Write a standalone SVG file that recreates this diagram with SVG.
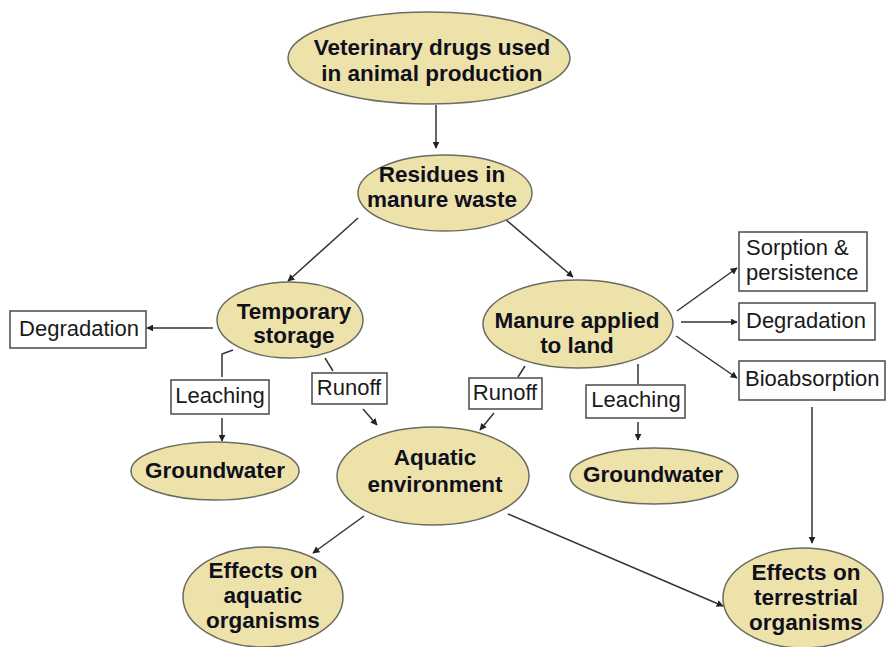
<svg xmlns="http://www.w3.org/2000/svg" width="887" height="647" viewBox="0 0 887 647">
<style>
.n ellipse{fill:#EEE2AB;stroke:#6b6b60;stroke-width:1.5}
.n rect{fill:#fff;stroke:#4a4a4a;stroke-width:1.5}
.b{font-family:"Liberation Sans",Arial,sans-serif;font-weight:bold;font-size:22.5px;fill:#10101c;text-anchor:middle}
.r{font-family:"Liberation Sans",Arial,sans-serif;font-size:22px;fill:#1a1a1a}
.c line,.c polyline{stroke:#333;stroke-width:1.5;fill:none}
.c .a{marker-end:url(#ah)}
</style>
<defs>
<marker id="ah" viewBox="0 0 10 10" refX="9" refY="5" markerWidth="7" markerHeight="7" markerUnits="userSpaceOnUse" orient="auto">
<path d="M0,0 L10,5 L0,10 z" fill="#222"/>
</marker>
</defs>
<rect width="887" height="647" fill="#fff"/>
<g class="c" id="connectors">
<line class="a" x1="436" y1="105" x2="436" y2="148"/>
<line class="a" x1="358" y1="218" x2="288" y2="281"/>
<line class="a" x1="505" y1="219" x2="573" y2="277"/>
<line class="a" x1="213" y1="328" x2="147" y2="328"/>
<polyline points="233,350 222,354 222,377"/>
<line class="a" x1="222" y1="418" x2="222" y2="441"/>
<line x1="325" y1="358" x2="333" y2="371"/>
<line class="a" x1="363" y1="409" x2="377" y2="425"/>
<line class="a" x1="677" y1="311" x2="737" y2="268"/>
<line class="a" x1="681" y1="322" x2="737" y2="322"/>
<line class="a" x1="676" y1="336" x2="737" y2="378"/>
<line x1="525" y1="366" x2="518" y2="377"/>
<line class="a" x1="494" y1="413" x2="480" y2="430"/>
<line x1="638" y1="364" x2="638" y2="384"/>
<line class="a" x1="638" y1="422" x2="638" y2="440"/>
<line class="a" x1="812" y1="407" x2="812" y2="543"/>
<line class="a" x1="364" y1="516" x2="313" y2="553"/>
<line class="a" x1="508" y1="514" x2="723" y2="606"/>
</g>
<g class="n" id="vet"><ellipse cx="429" cy="58" rx="141" ry="46"/><text class="b" x="432" y="55">Veterinary drugs used</text><text class="b" x="432" y="81">in animal production</text></g>
<g class="n" id="residues"><ellipse cx="445" cy="193" rx="87" ry="38"/><text class="b" x="442" y="182">Residues in</text><text class="b" x="442" y="207">manure waste</text></g>
<g class="n" id="temp"><ellipse cx="290" cy="320" rx="73" ry="38"/><text class="b" x="294" y="319">Temporary</text><text class="b" x="294" y="343">storage</text></g>
<g class="n" id="degL"><rect x="10" y="311" width="136" height="37"/><text class="r" x="79" y="336" text-anchor="middle">Degradation</text></g>
<g class="n" id="leachL"><rect x="171" y="380" width="98" height="34"/><text class="r" x="220" y="403" text-anchor="middle">Leaching</text></g>
<g class="n" id="runoffL"><rect x="312" y="373" width="75" height="31"/><text class="r" x="349" y="395" text-anchor="middle">Runoff</text></g>
<g class="n" id="gwL"><ellipse cx="215" cy="471" rx="84" ry="29"/><text class="b" x="215" y="478">Groundwater</text></g>
<g class="n" id="manure"><ellipse cx="578" cy="324" rx="95" ry="44"/><text class="b" x="577" y="328">Manure applied</text><text class="b" x="577" y="353">to land</text></g>
<g class="n" id="sorption"><rect x="739" y="232" width="128" height="59"/><text class="r" x="746" y="255">Sorption &amp;</text><text class="r" x="746" y="280">persistence</text></g>
<g class="n" id="degR"><rect x="739" y="303" width="136" height="37"/><text class="r" x="746" y="328">Degradation</text></g>
<g class="n" id="bio"><rect x="739" y="361" width="146" height="39"/><text class="r" x="745" y="386">Bioabsorption</text></g>
<g class="n" id="runoffR"><rect x="469" y="378" width="73" height="31"/><text class="r" x="505" y="400" text-anchor="middle">Runoff</text></g>
<g class="n" id="leachR"><rect x="586" y="385" width="99" height="33"/><text class="r" x="636" y="407" text-anchor="middle">Leaching</text></g>
<g class="n" id="gwR"><ellipse cx="654" cy="476" rx="84" ry="28"/><text class="b" x="653" y="482">Groundwater</text></g>
<g class="n" id="aquatic"><ellipse cx="433" cy="476" rx="96" ry="49"/><text class="b" x="435" y="465">Aquatic</text><text class="b" x="435" y="492">environment</text></g>
<g class="n" id="effAq"><ellipse cx="263" cy="597" rx="80" ry="50"/><text class="b" x="263" y="578">Effects on</text><text class="b" x="263" y="603">aquatic</text><text class="b" x="263" y="628">organisms</text></g>
<g class="n" id="effTer"><ellipse cx="803" cy="598" rx="80" ry="50"/><text class="b" x="806" y="580">Effects on</text><text class="b" x="806" y="605">terrestrial</text><text class="b" x="806" y="630">organisms</text></g>
</svg>
